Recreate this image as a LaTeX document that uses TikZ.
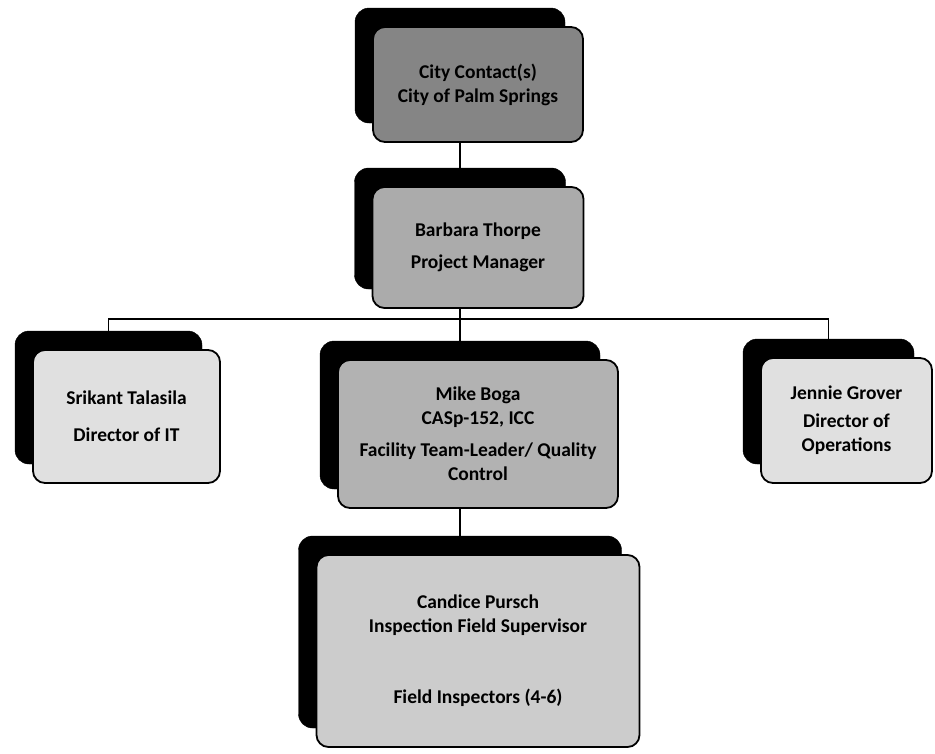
\documentclass[tikz,border=0pt]{standalone}
\usepackage{fontspec}
\setmainfont{Carlito}

\begin{document}
\begin{tikzpicture}[x=1pt,y=-1pt,
  backplate/.style={fill=black,draw=black,rounded corners=14pt},
  card/.style={draw=black,line width=1.8pt,rounded corners=12pt,align=center,
    inner sep=0pt,font=\fontsize{19.5}{24}\selectfont\bfseries,xshift=18pt,yshift=-19pt},
  link/.style={line width=1.8pt}]
\useasboundingbox (0,0) rectangle (935,753);

\node[backplate,minimum width=210pt,minimum height=115pt] (cityS) at (460,65.5) {};
\node[card,fill=black!48,minimum width=210pt,minimum height=115pt] (city) at (cityS) {City Contact(s)\\City of Palm Springs};

\node[backplate,minimum width=211pt,minimum height=121pt] (pmS) at (460,228.5) {};
\node[card,fill=black!33,minimum width=211pt,minimum height=121pt] (pm) at (pmS) {Barbara Thorpe\\[8pt]Project Manager};

\node[backplate,minimum width=187pt,minimum height=133pt] (itS) at (108.5,397.5) {};
\node[card,fill=black!12,minimum width=187pt,minimum height=133pt] (it) at (itS) {Srikant Talasila\\[13pt]Director of IT};

\node[backplate,minimum width=280pt,minimum height=148pt] (mikeS) at (460,415) {};
\node[card,fill=black!30,minimum width=280pt,minimum height=148pt] (mike) at (mikeS) {Mike Boga\\CASp-152, ICC\\[8pt]Facility Team-Leader/ Quality\\Control};

\node[backplate,minimum width=171pt,minimum height=125pt] (opsS) at (828.5,401.5) {};
\node[card,fill=black!12,minimum width=171pt,minimum height=125pt] (ops) at (opsS) {Jennie Grover\\[4pt]Director of\\Operations};

\node[backplate,minimum width=323pt,minimum height=192pt] (candS) at (460,632) {};
\node[card,fill=black!20,minimum width=323pt,minimum height=192pt] (cand) at (candS) {Candice Pursch\\Inspection Field Supervisor\\[47pt]Field Inspectors (4-6)};

\coordinate (bus) at (460,319);
\draw[link] (city.south -| cityS) -- (pmS.north);
\draw[link] (pm.south -| pmS) -- (mikeS.north);
\draw[link] (itS.north) |- (bus) -| (opsS.north);
\draw[link] (mike.south -| mikeS) -- (candS.north);
\end{tikzpicture}
\end{document}
